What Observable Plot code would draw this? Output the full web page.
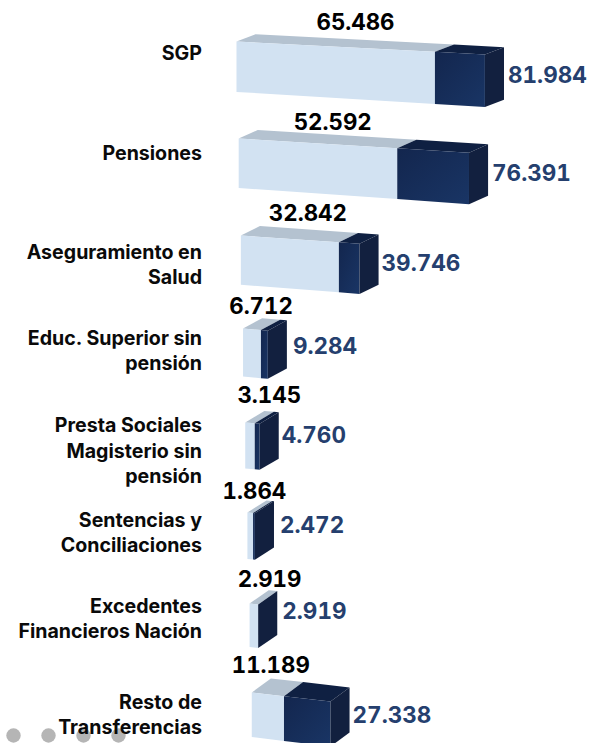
<!DOCTYPE html>
<html><head><meta charset="utf-8">
<script src="https://cdn.jsdelivr.net/npm/d3@7/dist/d3.min.js"></script>
<script src="https://cdn.jsdelivr.net/npm/@observablehq/plot@0.6/dist/plot.umd.min.js"></script>
<style>html,body{margin:0;padding:0;background:#fff}svg{display:block}</style>
</head><body><div id="chart"></div>
<script>
const categories = ["SGP","Pensiones","Aseguramiento en\nSalud","Educ. Superior sin\npensión","Presta Sociales\nMagisterio sin\npensión","Sentencias y\nConciliaciones","Excedentes\nFinancieros Nación","Resto de\nTransferencias"];
const committed = [65.486,52.592,32.842,6.712,3.145,1.864,2.919,11.189];
const budget = [81.984,76.391,39.746,9.284,4.760,2.472,2.919,27.338];
const fmt = v => v.toFixed(3);

const rows = categories.map((c,i)=>({c,i,a:committed[i],b:budget[i]}));
const decorDots = [0,1,2,3];

// layout of the pseudo-3D perspective (units: value on x, row on y)
const unit = 3.03;
const rowTops = [41,138,235,328,422,512,603,692];
const rowH = [.52,.51,.53,.51,.51,.51,.49,.5];
const rowPos = d3.scaleLinear().domain(rowTops.map((_,i)=>i)).range(rowTops);
const rowScale = [1,.995,.985,.88,1,1,.97,.95];
const P = (v,r,depth,bottom) => {
  const slope = (.05 + .009*r + (bottom ? .008 : 0)) * unit / 93;
  return {
    x: v*rowScale[r] + r*.72 + depth*6.3,
    y: rowPos(r + (bottom ? rowH[r] : 0) + slope*v - depth*(7 + 1.1*r)/93)
  };
};
const faces = [];
const poly = (fill,pts) => { const id = faces.length ? faces[faces.length-1].id+1 : 0; pts.forEach(p=>faces.push({id,fill,...p})); };
for (const d of rows) {
  const {i:r,a,b} = d;
  poly("#b4c2d0",[P(0,r,0,0),P(0,r,1,0),P(a,r,1,0),P(a,r,0,0)]);
  poly("#0f2042",[P(a,r,0,0),P(a,r,1,0),P(b,r,1,0),P(b,r,0,0)]);
  poly("#d2e2f2",[P(0,r,0,0),P(a,r,0,0),P(a,r,0,1),P(0,r,0,1)]);
  if (b>a) poly("url(#darkFront)",[P(a,r,0,0),P(b,r,0,0),P(b,r,0,1),P(a,r,0,1)]);
  poly("#12203f",[P(b,r,0,0),P(b,r,1,0),P(b,r,1,1),P(b,r,0,1)]);
}

// text placement relative to each bar
const catY = [51,151,263,349,449,531,617,713];
const topDx = [119,94,67,18,24,7,20,19];
const topDy = [-19,-16,-22,-22,-27,-21,-24,-27];
const sideDy = [34,35,28,18,13,13,8,23];
const sideDx = [4,4,3,6,3,6,5,3];

const plot = Plot.plot({
  width:592,height:743,margin:0,
  style:{background:"transparent",fontFamily:"Inter, sans-serif",overflow:"hidden"},
  x:{axis:null,domain:[-236/unit,356/unit],range:[0,592]},
  y:{axis:null,domain:[0,743],range:[0,743]},
  marks:[
    Plot.dot(decorDots,{x:d=>(-223+35*d)/unit,y:()=>735,r:7.2,fill:"#b5b5b5"}),
    Plot.line(faces,{x:"x",y:"y",z:"id",fill:"fill",stroke:"none",curve:"linear"}),
    Plot.text(rows,{x:()=>0,y:d=>catY[d.i],text:"c",dx:-34.5,textAnchor:"end",lineAnchor:"middle",lineHeight:1.3,fontSize:19.6,fontWeight:700,fill:"#0a0a0a"}),
    Plot.text(rows,{x:d=>P(0,d.i,0,0).x+topDx[d.i]/unit,y:d=>rowTops[d.i]+topDy[d.i],text:d=>fmt(d.a),fontSize:22.3,fontWeight:700,fontVariant:"tabular-nums",fill:"#000",lineAnchor:"middle"}),
    Plot.text(rows,{x:d=>P(d.b,d.i,1,0).x+sideDx[d.i]/unit,y:d=>rowTops[d.i]+sideDy[d.i],text:d=>fmt(d.b),fontSize:22.5,fontWeight:700,fontVariant:"tabular-nums",fill:"#253f6e",textAnchor:"start",lineAnchor:"middle"})
  ]
});
const defs = d3.select(plot).insert("defs",":first-child");
const g = defs.append("linearGradient").attr("id","darkFront").attr("x1","0").attr("y1","0").attr("x2","1").attr("y2","1");
g.append("stop").attr("offset","0").attr("stop-color","#13264e");
g.append("stop").attr("offset","1").attr("stop-color","#193565");
document.getElementById("chart").append(plot);
</script></body></html>
